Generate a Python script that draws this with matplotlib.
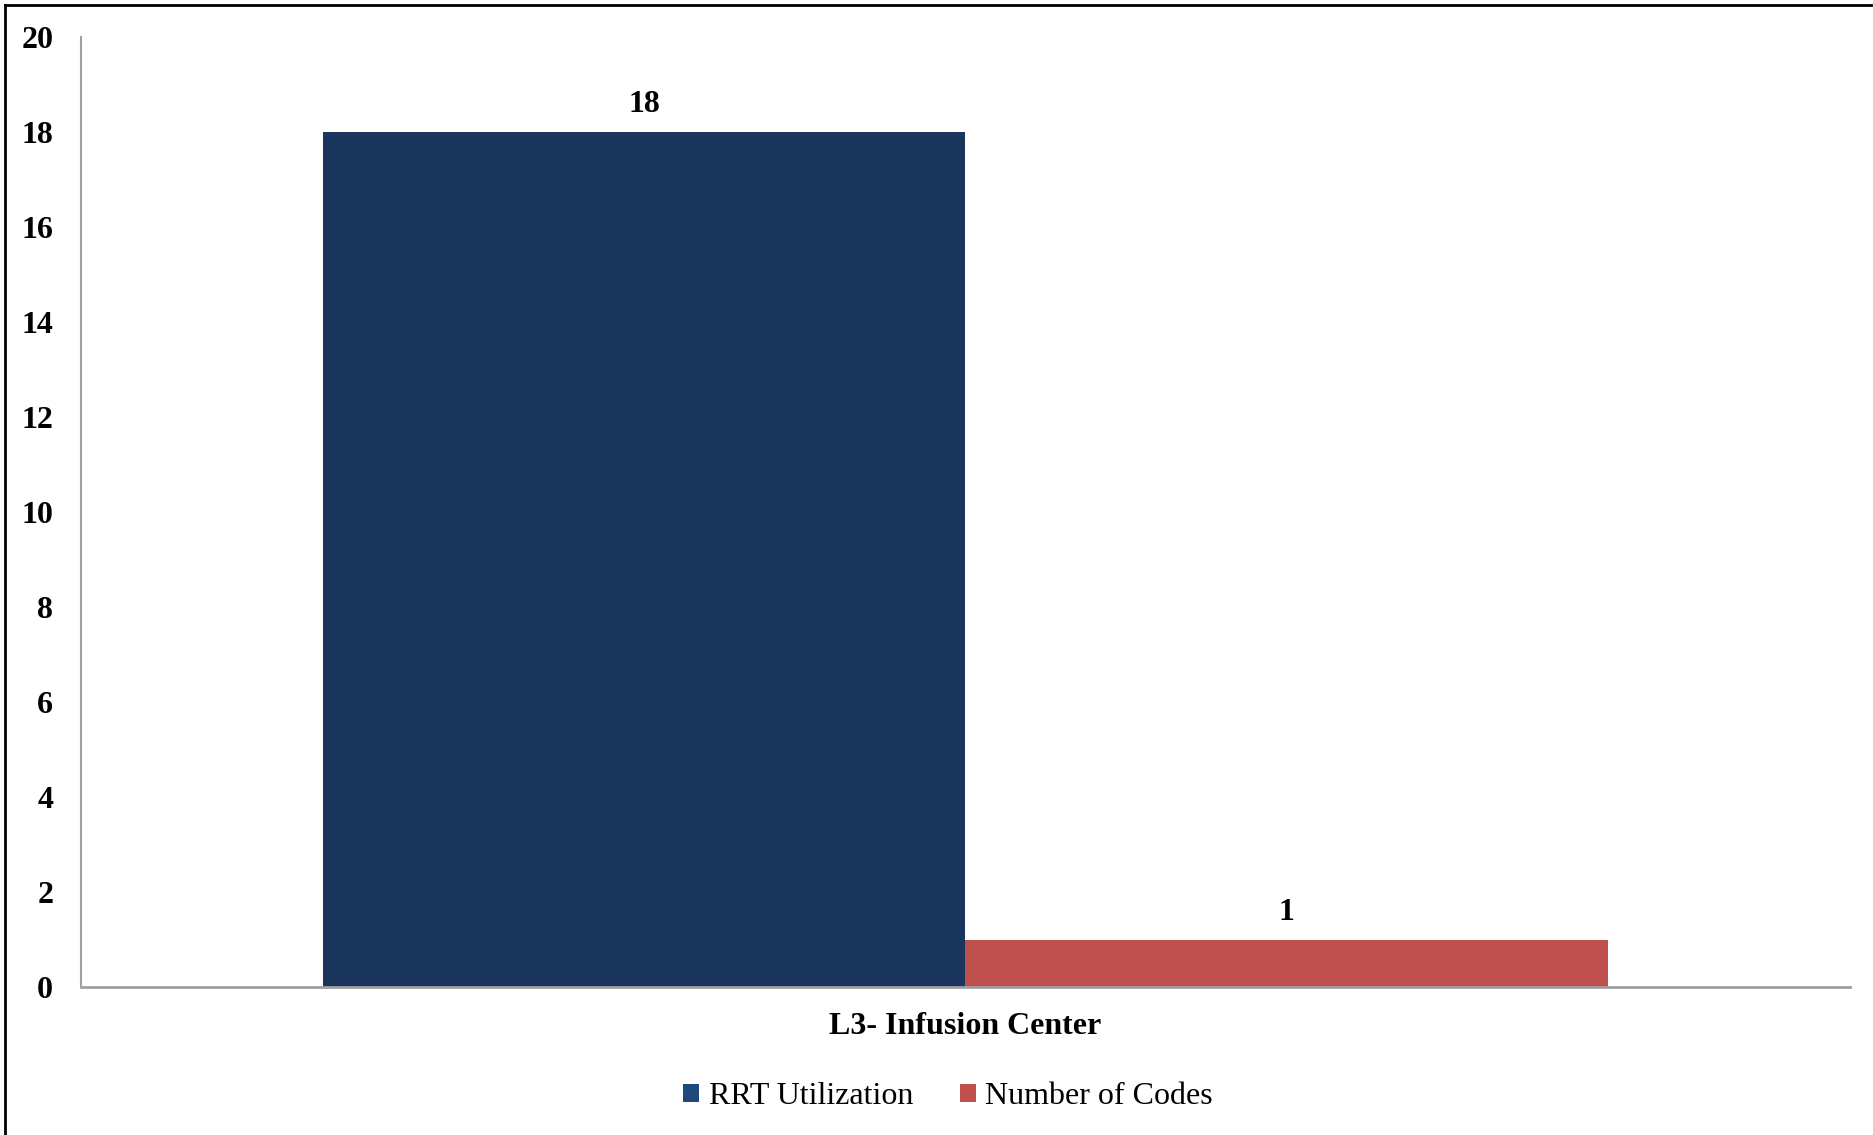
import matplotlib
matplotlib.use("Agg")
import matplotlib.pyplot as plt
from matplotlib.lines import Line2D
from matplotlib.patches import Patch

categories = ["L3- Infusion Center"]
series_names = ["RRT Utilization", "Number of Codes"]
rrt_values = [18]
codes_values = [1]
y_ticks = [0, 2, 4, 6, 8, 10, 12, 14, 16, 18, 20]

bar_colors = ["#1A365D", "#C0504D"]
legend_colors = ["#1F497D", "#C0504D"]

plt.rcParams['font.family'] = ['Liberation Serif', 'DejaVu Serif']

W, H = 1874, 1135
fig = plt.figure(figsize=(W / 100, H / 100), dpi=100)
ax = fig.add_axes([81 / W, 1 - 987 / H, (1850 - 81) / W, (987 - 37) / H])

width = 0.3633
x = list(range(len(categories)))
b1 = ax.bar([xi - width / 2 for xi in x], rrt_values, width, color=bar_colors[0],
            linewidth=0, label=series_names[0])
b2 = ax.bar([xi + width / 2 for xi in x], codes_values, width, color=bar_colors[1],
            linewidth=0, label=series_names[1])

for bars in (b1, b2):
    for rect in bars:
        ax.annotate(f"{rect.get_height():g}",
                    (rect.get_x() + rect.get_width() / 2, rect.get_height()),
                    xytext=(0, 9), textcoords="offset points",
                    ha="center", va="bottom", fontsize=23, fontweight="bold")

ax.set_xlim(-0.5, 0.5)
ax.set_ylim(0, 20)
ax.set_yticks(y_ticks)
ax.set_yticklabels([str(t) for t in y_ticks], fontsize=23, fontweight="bold")
ax.set_xticks(x)
ax.set_xticklabels(categories, fontsize=23, fontweight="bold")
ax.tick_params(axis="y", length=0, pad=20)
ax.tick_params(axis="x", length=0, pad=18)

for s in ("top", "right"):
    ax.spines[s].set_visible(False)
ax.spines["left"].set_color("#A0A0A0")
ax.spines["left"].set_linewidth(1.5)
ax.spines["bottom"].set_color("#A0A0A0")
ax.spines["bottom"].set_linewidth(2)

handles = [Patch(facecolor=c, edgecolor="none") for c in legend_colors]
fig.legend(handles, series_names, loc="center", bbox_to_anchor=(948 / W, 1 - 1097 / H),
           ncol=2, frameon=False, fontsize=23, handlelength=0.5, handleheight=0.5,
           handletextpad=0.3, columnspacing=1.45)

# outer border (left and top visible)
fig.add_artist(Line2D([4.5 / W, 4.5 / W], [0, 1 - 5 / H], transform=fig.transFigure, color="black", lw=2))
fig.add_artist(Line2D([4.5 / W, 1], [1 - 5 / H, 1 - 5 / H], transform=fig.transFigure, color="black", lw=2))

fig.savefig("out.png", dpi=100)
